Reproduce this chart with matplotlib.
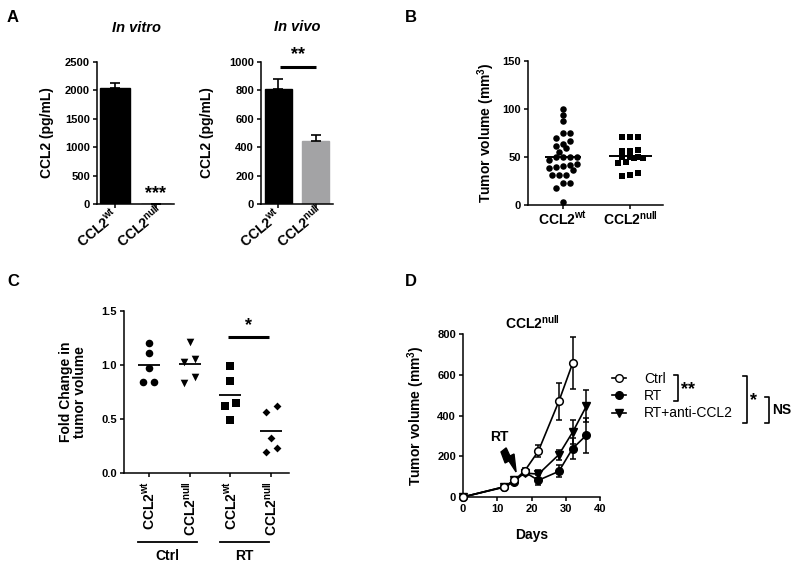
import numpy as np
import matplotlib
matplotlib.use('Agg')
import matplotlib.pyplot as plt
from matplotlib.lines import Line2D
from matplotlib.patches import Polygon
import matplotlib.transforms as mtransforms

# ------------------------------------------------------------------ data
geno_labels = [r'CCL2$^{wt}$', r'CCL2$^{null}$']

# Panel A
invitro_mean = [2040, 6]
invitro_sem = [95, 0]
invivo_mean = [808, 444]
invivo_sem = [72, 42]

# Panel B (tumor volume, mm3)
b_wt = [99.7, 93.8, 87.8, 74.7, 74.7, 70.1, 67.0, 63.2, 61.8, 59.7, 55.6,
        50.3, 50.3, 50.3, 50.3, 46.9, 42.4, 41.7, 40.6, 39.9, 38.2, 36.5,
        31.3, 31.3, 31.3, 22.6, 22.6, 17.4, 3.5]
b_null = [71.0, 70.5, 70.5, 57.3, 56.3, 56.3, 50.0, 49.7, 49.7, 48.6, 48.6,
          45.1, 43.4, 33.0, 31.3, 30.6]

# Panel C (fold change)
c_tick_labels = [r'CCL2$^{wt}$', r'CCL2$^{null}$', r'CCL2$^{wt}$', r'CCL2$^{null}$']
c_group_names = ['Ctrl', 'RT']
c_ctrl_wt = [1.207, 1.109, 0.970, 0.847, 0.847]
c_ctrl_null = [1.217, 1.056, 1.030, 0.893, 0.830]
c_rt_wt = [0.990, 0.853, 0.647, 0.622, 0.487]
c_rt_null = [0.622, 0.564, 0.323, 0.231, 0.190]

# Panel D (tumor growth)
d_labels = ['Ctrl', 'RT', 'RT+anti-CCL2']
d_days_ctrl = [0, 12, 15, 18, 22, 28, 32]
d_ctrl = [0, 50, 82, 128, 225, 470, 656]
d_ctrl_err = [0, 8, 10, 15, 28, 90, 128]
d_days_rt = [0, 12, 15, 18, 22, 28, 32, 36]
d_rt = [0, 48, 75, 122, 82, 126, 238, 303]
d_rt_err = [0, 8, 10, 12, 25, 30, 50, 85]
d_rt_anti = [0, 50, 82, 118, 112, 208, 318, 445]
d_rt_anti_err = [0, 8, 10, 12, 20, 25, 60, 78]

# ------------------------------------------------------------------ style
plt.rcParams['font.family'] = ['Liberation Sans', 'DejaVu Sans']
plt.rcParams['font.weight'] = 'bold'
plt.rcParams['axes.labelweight'] = 'bold'
plt.rcParams['mathtext.fontset'] = 'custom'
plt.rcParams['mathtext.rm'] = 'Liberation Sans:bold'
plt.rcParams['mathtext.it'] = 'Liberation Sans:bold'
plt.rcParams['mathtext.bf'] = 'Liberation Sans:bold'
plt.rcParams['mathtext.sf'] = 'Liberation Sans:bold'
plt.rcParams['mathtext.default'] = 'rm'

W, H = 800, 567
fig = plt.figure(figsize=(W / 100, H / 100), dpi=100)


def px_axes(l, t, r, b):
    return fig.add_axes([l / W, 1 - b / H, (r - l) / W, (b - t) / H])


def fxy(x, y):
    return (x / W, 1 - y / H)


def style(ax):
    for s in ['top', 'right']:
        ax.spines[s].set_visible(False)
    for s in ['left', 'bottom']:
        ax.spines[s].set_linewidth(1.1)
    ax.tick_params(direction='out', length=3, width=1.1, labelsize=8, pad=2)


def swarm_offsets(ax, values, d_px, thr_px):
    vals = np.asarray(values, dtype=float)
    py = ax.transData.transform(np.column_stack([np.zeros_like(vals), vals]))[:, 1]
    x0 = ax.transData.transform((0, 0))[0]
    x1 = ax.transData.transform((1, 0))[0]
    per_px = 1.0 / (x1 - x0)
    order = np.argsort(py)
    offs = np.zeros_like(vals)
    groups = []
    cur = [order[0]]
    for idx in order[1:]:
        if py[idx] - py[cur[0]] < thr_px:
            cur.append(idx)
        else:
            groups.append(cur)
            cur = [idx]
    groups.append(cur)
    for g in groups:
        n = len(g)
        for i, idx in enumerate(g):
            offs[idx] = (i - (n - 1) / 2) * d_px * per_px
    return offs


def fig_text(x, y, s, **kw):
    fig.text(*fxy(x, y), s, **kw)


def slanted_labels(ax, labels):
    ax.set_xticklabels(labels, rotation=40, ha='left', va='baseline',
                       rotation_mode='anchor', fontsize=10)
    ax.tick_params(axis='x', pad=0)
    off = mtransforms.ScaledTranslation(-0.33, -0.40, fig.dpi_scale_trans)
    for lab in ax.get_xticklabels():
        lab.set_transform(lab.get_transform() + off)


# panel letters
fig_text(7, 17, 'A', fontsize=12, ha='left', va='center')
fig_text(405, 17, 'B', fontsize=12, ha='left', va='center')
fig_text(7, 282, 'C', fontsize=12, ha='left', va='center')
fig_text(405, 282, 'D', fontsize=12, ha='left', va='center')

# ------------------------------------------------------------------ A1
ax = px_axes(97, 62, 174, 204)
style(ax)
x = np.arange(2)
ax.bar(x, invitro_mean, width=0.75, color='black', edgecolor='black', linewidth=1)
ax.errorbar(x, invitro_mean, yerr=[np.zeros(2), invitro_sem], fmt='none',
            ecolor='black', elinewidth=1.2, capsize=3.5, capthick=1.2)
ax.set_xlim(-0.45, 1.45)
ax.set_ylim(0, 2500)
ax.set_yticks([0, 500, 1000, 1500, 2000, 2500])
ax.set_xticks(x)
slanted_labels(ax, geno_labels)
ax.set_ylabel('CCL2 (pg/mL)', fontsize=10, va='center')
ax.yaxis.set_label_coords(-0.65, 0.5)
ax.text(1, invitro_mean[1] + 30, '***', ha='center', va='bottom', fontsize=13)
fig_text(136, 28, 'In vitro', fontsize=10.5, style='italic', ha='center', va='center')

# ------------------------------------------------------------------ A2
ax = px_axes(261, 62, 333, 204)
style(ax)
ax.bar(x, invivo_mean, width=0.73, color=['black', '#a3a3a5'],
       edgecolor=['black', '#a3a3a5'], linewidth=1)
ax.errorbar(x, invivo_mean, yerr=[np.zeros(2), invivo_sem], fmt='none',
            ecolor='black', elinewidth=1.2, capsize=3.5, capthick=1.2)
ax.set_xlim(-0.47, 1.47)
ax.set_ylim(0, 1000)
ax.set_yticks([0, 200, 400, 600, 800, 1000])
ax.set_xticks(x)
slanted_labels(ax, geno_labels)
ax.set_ylabel('CCL2 (pg/mL)', fontsize=10, va='center')
ax.yaxis.set_label_coords(-0.75, 0.5)
ax.plot([0.05, 1.0], [965, 965], color='black', lw=2.2, clip_on=False,
        solid_capstyle='butt')
ax.text(0.52, 990, '**', ha='center', va='bottom', fontsize=13)
fig_text(297, 27, 'In vivo', fontsize=10.5, style='italic', ha='center', va='center')

# ------------------------------------------------------------------ B
ax = px_axes(528, 61, 663, 205)
style(ax)
ax.set_xlim(-0.52, 1.49)
ax.set_ylim(0, 150)
ax.set_yticks([0, 50, 100, 150])
ax.set_xticks([0, 1])
ax.set_xticklabels(geno_labels, fontsize=10)
ax.tick_params(axis='x', pad=0.5)
ax.set_ylabel('Tumor volume (mm$^3$)', fontsize=10, va='center')
ax.yaxis.set_label_coords(-0.31, 0.5)
off = swarm_offsets(ax, b_wt, 7.0, 5.2)
ax.scatter(0 + off, b_wt, s=22, marker='o', color='black', linewidths=0, clip_on=False, zorder=3)
ax.hlines(np.mean(b_wt), -0.27, 0.27, color='black', lw=1.4, zorder=4)
off = swarm_offsets(ax, b_null, 8.3, 5.2)
ax.scatter(1 + off, b_null, s=22, marker='s', color='black', linewidths=0, clip_on=False, zorder=3)
ax.hlines(np.mean(b_null), 1 - 0.32, 1 + 0.32, color='black', lw=1.4, zorder=4)

# ------------------------------------------------------------------ C
ax = px_axes(124, 311, 289, 473)
style(ax)
ax.set_xlim(-0.61, 3.44)
ax.set_ylim(0, 1.5)
ax.set_yticks([0, 0.5, 1.0, 1.5])
ax.set_yticklabels(['0.0', '0.5', '1.0', '1.5'])
ax.set_xticks([0, 1, 2, 3])
ax.set_xticklabels(c_tick_labels, rotation=90, ha='center', va='top', fontsize=10)
ax.tick_params(axis='x', pad=3)
ax.set_ylabel('Fold Change in\ntumor volume', fontsize=10, va='center', linespacing=1.05)
ax.yaxis.set_label_coords(-0.31, 0.5)
c_series = [c_ctrl_wt, c_ctrl_null, c_rt_wt, c_rt_null]
c_markers = ['o', 'v', 's', 'D']
c_sizes = [30, 30, 28, 16]
for i, (vals, m, s) in enumerate(zip(c_series, c_markers, c_sizes)):
    off = swarm_offsets(ax, vals, 11, 8)
    ax.scatter(i + off, vals, s=s, marker=m, color='black', linewidths=0, zorder=3)
    ax.hlines(np.mean(vals), i - 0.27, i + 0.27, color='black', lw=1.3, zorder=4)
ax.plot([1.95, 2.95], [1.26, 1.26], color='black', lw=2.2, solid_capstyle='butt')
ax.text(2.45, 1.29, '*', ha='center', va='bottom', fontsize=13)
blend = mtransforms.blended_transform_factory(ax.transData, fig.transFigure)
gy = 1 - 542 / H
ty = 1 - 556 / H
ax.plot([-0.27, 1.18], [gy, gy], color='black', lw=1.3, transform=blend, clip_on=False)
ax.plot([1.75, 2.95], [gy, gy], color='black', lw=1.3, transform=blend, clip_on=False)
ax.text(0.45, ty, c_group_names[0], transform=blend, ha='center', va='center', fontsize=10)
ax.text(2.35, ty, c_group_names[1], transform=blend, ha='center', va='center', fontsize=10)

# ------------------------------------------------------------------ D
ax = px_axes(463, 334, 600, 497)
style(ax)
ax.set_xlim(0, 40)
ax.set_ylim(0, 800)
ax.set_xticks([0, 10, 20, 30, 40])
ax.set_yticks([0, 200, 400, 600, 800])
ax.set_xlabel('Days', fontsize=10, labelpad=10)
ax.set_ylabel('Tumor volume (mm$^3$)', fontsize=10, va='center')
ax.yaxis.set_label_coords(-0.34, 0.5)
kw = dict(color='black', lw=1.2, elinewidth=1.1, capsize=2.5, capthick=1.1,
          markersize=5.5, clip_on=False)
ax.errorbar(d_days_rt, d_rt_anti, yerr=d_rt_anti_err, marker='v', mfc='black', mec='black', zorder=3, **kw)
ax.errorbar(d_days_rt, d_rt, yerr=d_rt_err, marker='o', mfc='black', mec='black', zorder=4, **kw)
ax.errorbar(d_days_ctrl, d_ctrl, yerr=d_ctrl_err, marker='o', mfc='white', mec='black', mew=1.1, zorder=5, **kw)
fig_text(532, 323, r'CCL2$^{null}$', fontsize=10, ha='center', va='center')
ax.text(10.6, 296, 'RT', ha='center', va='center', fontsize=10)
bolt = Polygon([(11.1, 221), (12.6, 241), (13.7, 201), (14.9, 211), (15.5, 123),
                (13.4, 177), (12.3, 167)], closed=True, color='black', clip_on=False)
ax.add_patch(bolt)

handles = [Line2D([], [], color='black', lw=1.2, marker='o', mfc='white', mec='black', markersize=5.5),
           Line2D([], [], color='black', lw=1.2, marker='o', mfc='black', mec='black', markersize=5.5),
           Line2D([], [], color='black', lw=1.2, marker='v', mfc='black', mec='black', markersize=5.5)]
leg = fig.legend(handles, d_labels, loc='center left', bbox_to_anchor=fxy(612, 396),
                 frameon=False, borderpad=0, borderaxespad=0, handlelength=1.0,
                 handletextpad=1.3, labelspacing=0.25,
                 prop={'size': 10, 'weight': 'normal', 'family': ['Liberation Sans']})


def bracket(x, y0, y1, tick=4):
    xs = [x - tick, x, x, x - tick]
    ys = [y0, y0, y1, y1]
    fig.add_artist(Line2D([xx / W for xx in xs], [1 - yy / H for yy in ys],
                          color='black', lw=1.2, transform=fig.transFigure))


bracket(678, 375, 401)
fig_text(681, 390, '**', fontsize=13, ha='left', va='center')
bracket(747, 376, 423)
fig_text(750, 401, '*', fontsize=13, ha='left', va='center')
bracket(769, 397, 423)
fig_text(772, 410, 'NS', fontsize=10, ha='left', va='center')

fig.savefig('out.png', dpi=100)
